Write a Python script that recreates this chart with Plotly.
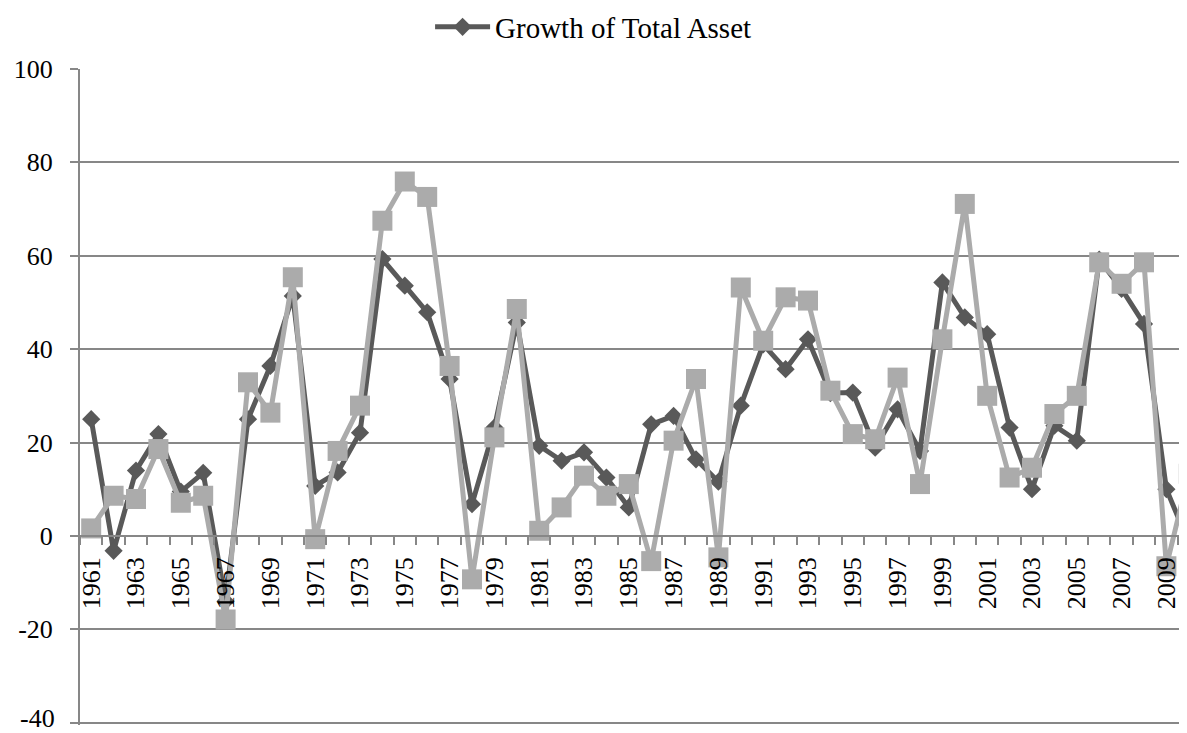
import plotly.graph_objects as go

years = list(range(1961, 2011))

growth_total_asset = [
    25.0, -3.2, 14.0, 21.8, 9.5, 13.5, -14.0, 25.0, 36.4, 51.4,
    10.7, 13.6, 22.1, 59.3, 53.6, 47.9, 33.6, 6.8, 23.2, 45.7,
    19.3, 16.1, 17.9, 12.5, 6.1, 23.9, 25.7, 16.4, 11.6, 27.9,
    41.0, 35.7, 42.1, 30.6, 30.7, 18.9, 27.1, 18.2, 54.3, 46.8,
    43.2, 23.2, 10.0, 23.6, 20.4, 59.2, 52.9, 45.4, 10.0, -1.5,
]

second_series = [
    1.6, 8.6, 7.9, 18.6, 7.1, 8.6, -17.9, 32.9, 26.4, 55.4,
    -0.7, 18.2, 27.9, 67.5, 75.9, 72.6, 36.4, -9.3, 21.1, 48.6,
    1.1, 6.1, 12.9, 8.6, 11.1, -5.4, 20.4, 33.6, -4.6, 53.2,
    41.8, 51.1, 50.4, 31.1, 21.8, 20.7, 33.9, 11.1, 42.1, 71.1,
    30.0, 12.5, 14.6, 26.1, 30.0, 58.6, 54.0, 58.6, -6.5, 13.3,
]

tick_years = list(range(1961, 2010, 2))
y_ticks = [-40, -20, 0, 20, 40, 60, 80, 100]

DARK = "#595959"
LIGHT = "#ABABAB"
GRID = "#878787"
FONT = "Liberation Serif"

Y_LO, Y_HI = -40.5, 100

fig = go.Figure()
fig.add_trace(go.Scatter(
    x=years, y=growth_total_asset, mode="lines+markers",
    name="Growth of Total Asset",
    line=dict(color=DARK, width=5),
    marker=dict(symbol="diamond", size=14, color=DARK),
))
fig.add_trace(go.Scatter(
    x=years, y=second_series, mode="lines+markers",
    name="Series 2", showlegend=False,
    line=dict(color=LIGHT, width=5),
    marker=dict(symbol="square", size=20, color=LIGHT),
))

# lowest y tick label is drawn as an annotation so it is not dropped at the edge
y_text = ["" if v == y_ticks[0] else str(v) for v in y_ticks]
fig.add_annotation(
    xref="paper", yref="y", x=0, y=y_ticks[0],
    text=str(y_ticks[0]), showarrow=False,
    xanchor="right", yanchor="middle", xshift=-24, yshift=4,
    borderpad=0,
    font=dict(family=FONT, size=26, color="black"),
)

fig.update_layout(
    width=1179, height=725,
    margin=dict(l=72, r=0, t=61, b=7.7, autoexpand=False),
    paper_bgcolor="white", plot_bgcolor="white",
    font=dict(family=FONT, size=26, color="black"),
    showlegend=True,
    legend=dict(
        orientation="h", xref="container", yref="container",
        x=0.358, xanchor="left", y=1 - 19 / 725, yanchor="middle",
        font=dict(family=FONT, size=29, color="black"),
        itemwidth=55, bgcolor="rgba(0,0,0,0)",
    ),
    xaxis=dict(
        range=[1960.5, 2009.92],
        anchor="free", position=(0 - Y_LO) / (Y_HI - Y_LO),
        showgrid=False, zeroline=False,
        showline=True, linecolor=GRID, linewidth=2,
        tickmode="array", tickvals=tick_years,
        ticktext=[str(y) for y in tick_years],
        tickangle=-90,
        ticks="outside", ticklen=8, tickcolor="rgba(0,0,0,0)",
        ticklabelstandoff=2,
        minor=dict(tick0=1960.5, dtick=1, ticks="outside", ticklen=8,
                   tickcolor=GRID, tickwidth=1.5, showgrid=False),
        tickfont=dict(family=FONT, size=26, color="black"),
    ),
    yaxis=dict(
        range=[Y_LO, Y_HI],
        tickmode="array", tickvals=y_ticks, ticktext=y_text,
        showgrid=True, gridcolor=GRID, gridwidth=1.5,
        zeroline=False,
        showline=True, linecolor=GRID, linewidth=2,
        ticks="outside", ticklen=8, tickcolor=GRID, tickwidth=1.5,
        ticklabelstandoff=12,
        tickfont=dict(family=FONT, size=26, color="black"),
    ),
)

fig.write_html("out.html")
